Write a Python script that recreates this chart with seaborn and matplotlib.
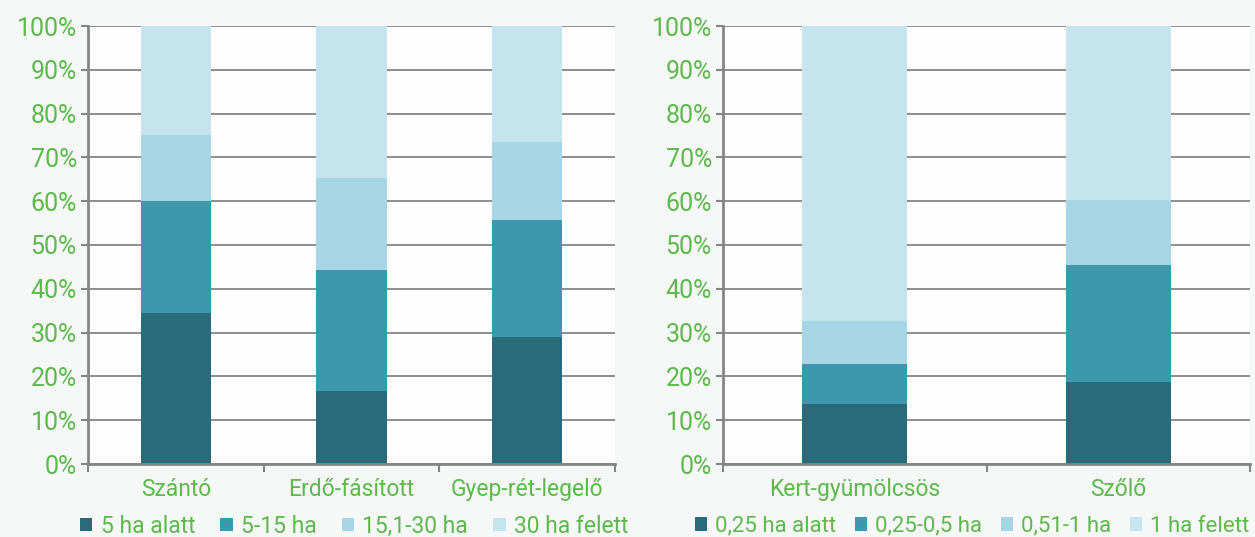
import numpy as np
import pandas as pd
import matplotlib
matplotlib.use("Agg")
import matplotlib.pyplot as plt
import seaborn as sns
from matplotlib.patches import Patch

# ---- data ----
left_categories = ["Szántó", "Erdő-fásított", "Gyep-rét-legelő"]
left_series = ["5 ha alatt", "5-15 ha", "15,1-30 ha", "30 ha felett"]
left_values = {
    "5 ha alatt":   [34.5, 16.7, 29.0],
    "5-15 ha":      [25.5, 27.6, 26.7],
    "15,1-30 ha":   [15.2, 21.0, 17.8],
    "30 ha felett": [24.8, 34.7, 26.5],
}

right_categories = ["Kert-gyümölcsös", "Szőlő"]
right_series = ["0,25 ha alatt", "0,25-0,5 ha", "0,51-1 ha", "1 ha felett"]
right_values = {
    "0,25 ha alatt": [13.7, 18.7],
    "0,25-0,5 ha":   [9.1, 26.7],
    "0,51-1 ha":     [9.8, 14.9],
    "1 ha felett":   [67.4, 39.7],
}

y_ticks = [0, 10, 20, 30, 40, 50, 60, 70, 80, 90, 100]

colors = ["#2a6b7a", "#3d97ad", "#a6d6e3", "#c6e4ee"]
green = "#5db94b"
grey = "#858585"

sns.set_theme(style="white")
plt.rcParams["font.family"] = ["Roboto", "DejaVu Sans"]

fig = plt.figure(figsize=(12.55, 5.37), dpi=100)
fig.patch.set_facecolor("#f6f7f7")

W, H = 1255, 537
ax_l = fig.add_axes([88 / W, (H - 464) / H, 527 / W, 438 / H])
ax_r = fig.add_axes([723 / W, (H - 464) / H, 527 / W, 438 / H])


def draw(ax, cats, series, values, leg_x, leg_fs, colsp):
    df = pd.DataFrame(values, index=cats)
    cum = df[series].cumsum(axis=1)
    for i in reversed(range(len(series))):
        d = pd.DataFrame({"cat": cats, "val": cum[series[i]].values})
        sns.barplot(data=d, x="cat", y="val", ax=ax, color=colors[i],
                    width=0.4, saturation=1, edgecolor="none", linewidth=0,
                    order=cats)
    ax.set_facecolor("#fdfdfd")
    ax.set_ylim(0, 100)
    ax.set_xlim(-0.5, len(cats) - 0.5)
    ax.set_yticks(y_ticks)
    ax.set_yticklabels([f"{t}%" for t in y_ticks])
    ax.set_xlabel("")
    ax.set_ylabel("")
    ax.set_axisbelow(True)
    ax.yaxis.grid(True, color=grey, linewidth=1.3)
    ax.xaxis.grid(False)
    for s in ["top", "right"]:
        ax.spines[s].set_visible(False)
    for s in ["left", "bottom"]:
        ax.spines[s].set_visible(True)
        ax.spines[s].set_color(grey)
        ax.spines[s].set_linewidth(2)
    ax.tick_params(axis="y", which="major", left=True, length=5, width=1.5,
                   color=grey, labelcolor=green, labelsize=18, pad=3)
    ax.tick_params(axis="x", which="major", bottom=False, length=0,
                   labelcolor=green, labelsize=16.5, pad=10)
    ax.set_xticks(np.arange(-0.5, len(cats), 1.0), minor=True)
    ax.tick_params(axis="x", which="minor", bottom=True, length=6, width=1.5,
                   color=grey)
    handles = [Patch(facecolor=colors[i], edgecolor="none") for i in range(len(series))]
    leg = ax.legend(handles, series, loc="center", bbox_to_anchor=(leg_x, -0.142),
                    ncol=len(series), frameon=False, fontsize=leg_fs,
                    handlelength=0.55, handleheight=0.55, handletextpad=0.35,
                    columnspacing=colsp, borderaxespad=0, borderpad=0)
    for t in leg.get_texts():
        t.set_color(green)


draw(ax_l, left_categories, left_series, left_values, 0.505, 16.5, 1.1)
draw(ax_r, right_categories, right_series, right_values, 0.473, 16, 0.85)

fig.savefig("out.png", dpi=100, facecolor=fig.get_facecolor())
